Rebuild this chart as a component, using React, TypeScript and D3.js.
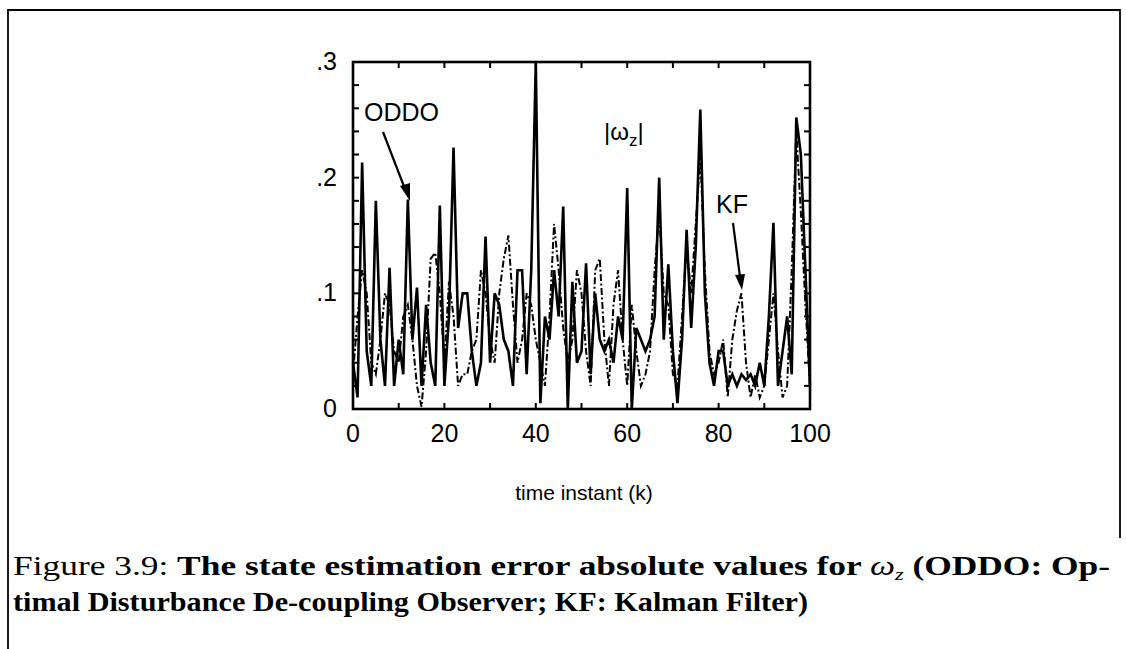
import React from "react";
import * as d3 from "d3";

const ks: number[] = d3.range(0, 101);
const oddo: number[] = [
  0.04, 0.01, 0.213, 0.05, 0.02, 0.18, 0.06, 0.02, 0.122, 0.02,
  0.06, 0.03, 0.181, 0.06, 0.105, 0.02, 0.09, 0.04, 0.02, 0.176,
  0.02, 0.08, 0.226, 0.07, 0.1, 0.1, 0.05, 0.02, 0.04, 0.149,
  0.04, 0.1, 0.09, 0.06, 0.05, 0.02, 0.12, 0.12, 0.03, 0.12,
  0.3, 0.005, 0.08, 0.06, 0.12, 0.08, 0.175, 0.0, 0.11, 0.04,
  0.05, 0.126, 0.03, 0.1, 0.06, 0.05, 0.06, 0.04, 0.08, 0.06,
  0.191, 0.0, 0.07, 0.06, 0.05, 0.06, 0.08, 0.2, 0.06, 0.125,
  0.05, 0.005, 0.06, 0.155, 0.07, 0.14, 0.259, 0.1, 0.04, 0.02,
  0.05, 0.05, 0.02, 0.03, 0.02, 0.03, 0.025, 0.03, 0.02, 0.04,
  0.02, 0.08, 0.161, 0.02, 0.05, 0.08, 0.03, 0.252, 0.22, 0.12,
  0.02,
];
const kf: number[] = [
  0.03, 0.08, 0.12, 0.1, 0.04, 0.03, 0.06, 0.1, 0.09, 0.05,
  0.04, 0.08, 0.09, 0.06, 0.02, 0.002, 0.05, 0.13, 0.135, 0.1,
  0.04, 0.11, 0.08, 0.02, 0.03, 0.03, 0.05, 0.06, 0.12, 0.1,
  0.06, 0.04, 0.1, 0.13, 0.15, 0.09, 0.04, 0.06, 0.1, 0.09,
  0.06, 0.04, 0.02, 0.08, 0.16, 0.12, 0.07, 0.04, 0.06, 0.12,
  0.1, 0.05, 0.02, 0.12, 0.13, 0.06, 0.02, 0.09, 0.12, 0.06,
  0.02, 0.09, 0.05, 0.02, 0.03, 0.05, 0.12, 0.17, 0.1, 0.09,
  0.03, 0.02, 0.08, 0.14, 0.1, 0.16, 0.22, 0.12, 0.05, 0.03,
  0.04, 0.06, 0.01, 0.06, 0.085, 0.1, 0.04, 0.01, 0.03, 0.01,
  0.02, 0.06, 0.1, 0.05, 0.01, 0.02, 0.12, 0.24, 0.17, 0.09,
  0.02,
];
const xTickLabels: number[] = [0, 20, 40, 60, 80, 100];
const yTickLabels: { v: number; t: string }[] = [
  { v: 0, t: "0" },
  { v: 0.1, t: ".1" },
  { v: 0.2, t: ".2" },
  { v: 0.3, t: ".3" },
];

const X0 = 353, X1 = 810, Y0 = 409, Y1 = 62;

export default function App() {
  const x = d3.scaleLinear().domain([0, 100]).range([X0, X1]);
  const y = d3.scaleLinear().domain([0, 0.3]).range([Y0, Y1]);
  const line = d3
    .line<number>()
    .x((_, i) => x(ks[i]))
    .y((d) => y(d));
  const xMinor = d3.range(10, 100, 10);
  const yMinor = d3.range(1, 15).map((i) => i * 0.02);
  const sans = "'Liberation Sans', Arial, Helvetica, sans-serif";
  const serif = "'Liberation Serif', 'DejaVu Serif', serif";
  return (
    <svg
      width={1126}
      height={649}
      style={{ position: "absolute", left: 0, top: 0, background: "#fff" }}
    >
      <rect width={1126} height={649} fill="#fff" />
      {/* outer border */}
      <path d="M8,649 L8,10 L1120,10 L1120,538" fill="none" stroke="#000" strokeWidth={1.8} />

      {/* data */}
      <path d={line(kf) || ""} fill="none" stroke="#000" strokeWidth={2} strokeDasharray="7,2.5,2,2.5" />
      <path d={line(oddo) || ""} fill="none" stroke="#000" strokeWidth={2.6} strokeLinejoin="miter" />

      {/* frame */}
      <rect x={X0} y={Y1} width={X1 - X0} height={Y0 - Y1} fill="none" stroke="#000" strokeWidth={2.6} />
      {xMinor.map((t) => (
        <g key={"xt" + t}>
          <line x1={x(t)} x2={x(t)} y1={Y0} y2={Y0 - 6} stroke="#000" strokeWidth={2} />
          <line x1={x(t)} x2={x(t)} y1={Y1} y2={Y1 + 6} stroke="#000" strokeWidth={2} />
        </g>
      ))}
      {yMinor.map((t) => (
        <g key={"yt" + t}>
          <line x1={X0} x2={X0 + 6} y1={y(t)} y2={y(t)} stroke="#000" strokeWidth={2} />
          <line x1={X1} x2={X1 - 6} y1={y(t)} y2={y(t)} stroke="#000" strokeWidth={2} />
        </g>
      ))}

      {/* tick labels */}
      {xTickLabels.map((t) => (
        <text key={"xl" + t} x={x(t)} y={442} fontFamily={sans} fontSize={25} textAnchor="middle">
          {t}
        </text>
      ))}
      {yTickLabels.map((d) => (
        <text key={"yl" + d.t} x={337} y={y(d.v) + 8} fontFamily={sans} fontSize={25} textAnchor="end">
          {d.t}
        </text>
      ))}

      <text x={584} y={500} fontFamily={sans} fontSize={21} textAnchor="middle">
        time instant (k)
      </text>

      {/* annotations */}
      <text x={364} y={121} fontFamily={sans} fontSize={25}>ODDO</text>
      <line x1={383} y1={132} x2={405} y2={189} stroke="#000" strokeWidth={2.2} />
      <path d="M410,201 L400,186 L410,183 Z" fill="#000" />

      <text x={716} y={213} fontFamily={sans} fontSize={25}>KF</text>
      <line x1={733} y1={223} x2={740} y2={277} stroke="#000" strokeWidth={2.2} />
      <path d="M742,290 L735,275 L745,274 Z" fill="#000" />

      <text x={604} y={140} fontFamily={sans} fontSize={24}>
        |ω<tspan fontSize={17} dy={6}>z</tspan><tspan dy={-6}>|</tspan>
      </text>

      {/* caption */}
      <text x={13} y={575} fontFamily={serif} fontSize={27} textLength={1097} lengthAdjust="spacingAndGlyphs">
        <tspan>Figure 3.9: </tspan>
        <tspan fontWeight="bold">The state estimation error absolute values for </tspan>
        <tspan fontStyle="italic">ω</tspan>
        <tspan fontStyle="italic" fontSize={17} dy={5}>z</tspan>
        <tspan fontWeight="bold" dy={-5}> (ODDO: Op-</tspan>
      </text>
      <text x={13} y={611} fontFamily={serif} fontSize={27} fontWeight="bold" textLength={795} lengthAdjust="spacingAndGlyphs">
        timal Disturbance De-coupling Observer; KF: Kalman Filter)
      </text>
    </svg>
  );
}
